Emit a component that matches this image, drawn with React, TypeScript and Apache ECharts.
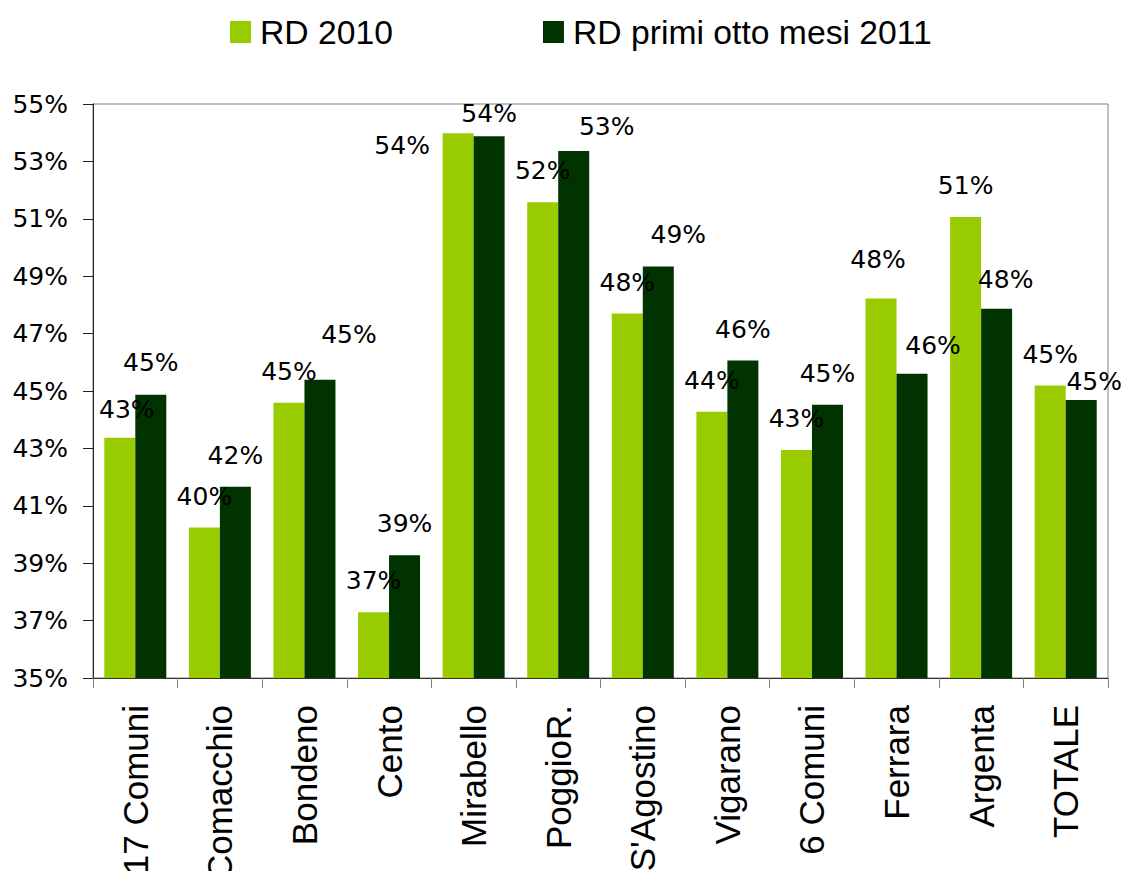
import React, { useEffect, useRef } from "react";
import * as echarts from "echarts";

const categories = [
  "17 Comuni", "Comacchio", "Bondeno", "Cento", "Mirabello", "PoggioR.",
  "S'Agostino", "Vigarano", "6 Comuni", "Ferrara", "Argenta", "TOTALE",
];
const rd2010 = [43.37, 40.24, 44.59, 37.29, 53.98, 51.58, 47.7, 44.28, 42.94, 48.22, 51.06, 45.19];
const rd2011 = [44.87, 41.66, 45.39, 39.28, 53.88, 53.36, 49.34, 46.06, 44.52, 45.6, 47.87, 44.69];
const yTicks = { min: 35, max: 55, step: 2 };
const seriesNames = ["RD 2010", "RD primi otto mesi 2011"];

// label nudges (layout only), [dx, dy] per category
const labelNudge2010: number[][] = [
  [7, 3], [0, 0], [0, 0], [0, 0], [-56, 44], [0, 0],
  [0, 0], [0, 0], [0, 0], [-3, -8], [0, 0], [0, 0],
];
const labelNudge2011: number[][] = [
  [0, -1], [0, 0], [29, -14], [0, 0], [0, 9], [33, 7],
  [20, 0], [0, 0], [0, 0], [21, 3], [9, 2], [13, 13],
];

const LIGHT = "#99CC00";
const DARK = "#003300";

export default function App() {
  const ref = useRef<HTMLDivElement>(null);
  useEffect(() => {
    if (!ref.current) return;
    const chart = echarts.init(ref.current, undefined, { renderer: "svg" });
    const valueLabel = {
      show: true,
      position: "top",
      distance: 19,
      color: "#000",
      fontFamily: "DejaVu Sans",
      fontSize: 25,
      formatter: (p: any) => Math.round(p.value) + "%",
    };
    const mk = (vals: number[], nudge: number[][]) =>
      vals.map((v, i) => ({ value: v, label: { offset: nudge[i] } }));
    chart.setOption({
      animation: false,
      backgroundColor: "#fff",
      legend: {
        left: 225,
        top: 10,
        icon: "rect",
        itemWidth: 21,
        itemHeight: 22,
        itemGap: 150,
        textStyle: { fontFamily: "Liberation Sans", fontSize: 33.7, color: "#000", padding: [0, 0, 0, 4] },
        data: seriesNames,
      },
      grid: {
        left: 93,
        right: 18,
        top: 104,
        bottom: 193,
        show: true,
        borderColor: "#808080",
        borderWidth: 1,
        containLabel: false,
        outerBoundsMode: "none",
      },
      xAxis: {
        type: "category",
        data: categories,
        axisLine: { lineStyle: { color: "#333", width: 1 } },
        axisTick: { show: true, alignWithLabel: false, length: 10, lineStyle: { color: "#808080" } },
        axisLabel: {
          rotate: 90,
          margin: 27,
          interval: 0,
          color: "#000",
          fontFamily: "Liberation Sans",
          fontSize: 35,
        },
        splitLine: { show: false },
      },
      yAxis: {
        type: "value",
        min: yTicks.min,
        max: yTicks.max,
        interval: yTicks.step,
        axisLine: { show: true, lineStyle: { color: "#222", width: 1 } },
        axisTick: { show: true, length: 10, lineStyle: { color: "#222" } },
        axisLabel: {
          margin: 25,
          color: "#000",
          fontFamily: "DejaVu Sans",
          fontSize: 25,
          formatter: (v: number) => Math.round(v) + "%",
        },
        splitLine: { show: false },
      },
      series: [
        {
          name: seriesNames[0],
          type: "bar",
          data: mk(rd2010, labelNudge2010),
          itemStyle: { color: LIGHT },
          barGap: "0%",
          barCategoryGap: "26.7%",
          label: valueLabel,
        },
        {
          name: seriesNames[1],
          type: "bar",
          data: mk(rd2011, labelNudge2011),
          itemStyle: { color: DARK },
          barGap: "0%",
          barCategoryGap: "26.7%",
          label: valueLabel,
        },
      ],
    });
    return () => chart.dispose();
  }, []);
  return (
    <div
      ref={ref}
      style={{ position: "absolute", left: 0, top: 0, width: 1126, height: 871 }}
    />
  );
}
